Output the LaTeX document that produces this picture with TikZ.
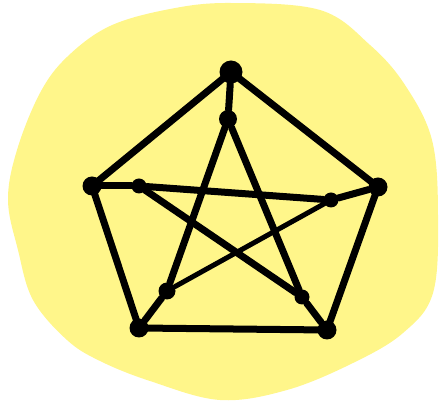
\documentclass[tikz,border=0pt]{standalone}
\usetikzlibrary{positioning}
\definecolor{blobyellow}{HTML}{FFF68A}
\tikzset{
  blob/.style={fill=blobyellow, draw=none},
  bigdot/.style={circle, fill=black, inner sep=0pt, minimum size=19pt},
  smalldot/.style={circle, fill=black, inner sep=0pt, minimum size=15pt},
  edge/.style={line width=7pt, line cap=round, line join=round, black},
  thinedge/.style={line width=5pt, line cap=round, black}}
\begin{document}
\begin{tikzpicture}[x=1pt, y=-1pt]
    \useasboundingbox (0,0) rectangle (440,403);
    % yellow backdrop
    \fill[blob] plot[smooth cycle, tension=0.6] coordinates {
      (230,3) (320,10) (370,45) (405,85) (432,140) (438,215) (433,293)
      (403,333) (353,363) (287,390) (220,400) (150,381) (100,361)
      (67,340) (33,300) (18,250) (8,200) (17,150) (40,93) (67,57) (110,26) (170,9)};
    % outer pentagon
    \node[bigdot, minimum size=23pt] (ot) at (231,72) {};
    \node[bigdot] (ol) at (92,186) {};
    \node[bigdot] (or) at (378,187) {};
    \node[bigdot] (obl) at (139,328) {};
    \node[bigdot] (obr) at (327,330) {};
    % inner star
    \node[smalldot, minimum size=18pt] (it) at (228,119) {};
    \node[smalldot] (il) at (139,186) {};
    \node[smalldot] (ir) at (331,200) {};
    \node[smalldot, minimum size=17pt] (ibl) at (167,291) {};
    \node[smalldot] (ibr) at (302,297) {};
    \draw[edge] (ot.center) -- (or.center) -- (obr.center) -- (obl.center) -- (ol.center) -- cycle;
    \draw[edge] (ot) -- (it);
    \draw[edge] (ol) -- (il);
    \draw[edge] (or) -- (ir);
    \draw[edge] (obl) -- (ibl);
    \draw[edge] (obr) -- (ibr);
    \draw[edge] (it) -- (ibl);
    \draw[edge] (it) -- (ibr);
    \draw[edge] (il) -- (ir);
    \draw[edge] (il) -- (ibr);
    \draw[thinedge] (ir) -- (ibl);
  \end{tikzpicture}
\end{document}
